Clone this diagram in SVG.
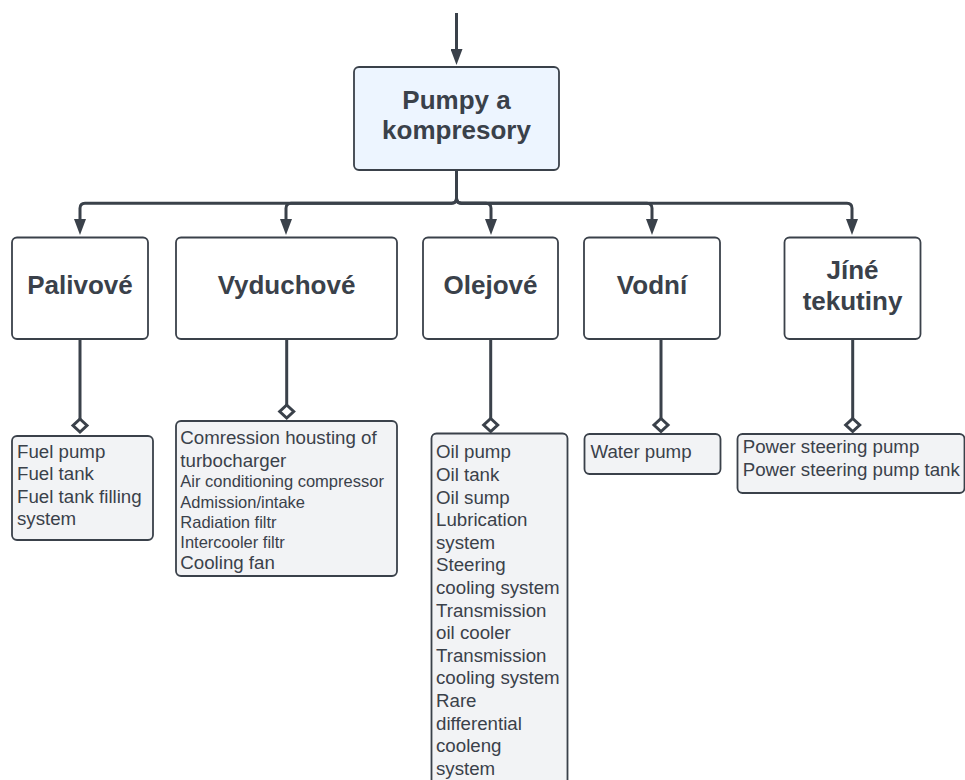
<svg xmlns="http://www.w3.org/2000/svg" xmlns:xlink="http://www.w3.org/1999/xlink" width="965" height="780" viewBox="0 0 965 780">
  <style>
    .box { fill: #ffffff; stroke: #3a414a; stroke-width: 1.8; }
    .root { fill: #edf5ff; }
    .list { fill: #f2f3f5; }
    .title { font-family: "Liberation Sans", Arial, sans-serif; font-weight: bold; font-size: 26px; fill: #3a414a; text-anchor: middle; }
    .item { font-family: "Liberation Sans", Arial, sans-serif; font-size: 18.7px; fill: #3a414a; }
    .small { font-size: 16.5px; }
    .wire { fill: none; stroke: #3a414a; stroke-width: 3; }
    .dia { fill: #ffffff; stroke: #3a414a; stroke-width: 3; }
  </style>
  <defs>
    <marker id="arrow" markerUnits="userSpaceOnUse" markerWidth="16" markerHeight="12" refX="6" refY="6" orient="auto">
      <path d="M0,0 L16,6 L0,12 Z" fill="#3a414a"/>
    </marker>
    <path id="diamond" d="M0,-6.5 L7,0 L0,6.5 L-7,0 Z"/>
  </defs>

  <!-- connectors -->
  <g id="connectors">
    <path class="wire" d="M456.5,13 V55" marker-end="url(#arrow)"/>
    <path class="wire" d="M456.5,170 V198.3 Q456.5,203.3 451.5,203.3 H85 Q80,203.3 80,208.3 V225" marker-end="url(#arrow)"/>
    <path class="wire" d="M456.5,170 V198.3 Q456.5,203.3 451.5,203.3 H291 Q286,203.3 286,208.3 V225" marker-end="url(#arrow)"/>
    <path class="wire" d="M456.5,170 V198.3 Q456.5,203.3 461.5,203.3 H486 Q491,203.3 491,208.3 V225" marker-end="url(#arrow)"/>
    <path class="wire" d="M456.5,170 V198.3 Q456.5,203.3 461.5,203.3 H647 Q652,203.3 652,208.3 V225" marker-end="url(#arrow)"/>
    <path class="wire" d="M456.5,170 V198.3 Q456.5,203.3 461.5,203.3 H847 Q852,203.3 852,208.3 V225" marker-end="url(#arrow)"/>

    <path class="wire" d="M80,339 V419"/>
    <path class="wire" d="M286.7,339 V405"/>
    <path class="wire" d="M490.7,339 V418.5"/>
    <path class="wire" d="M661,339 V418.5"/>
    <path class="wire" d="M852.7,339 V418.5"/>
    <use xlink:href="#diamond" class="dia" x="80" y="425.5"/>
    <use xlink:href="#diamond" class="dia" x="286.7" y="411.5"/>
    <use xlink:href="#diamond" class="dia" x="490.7" y="425"/>
    <use xlink:href="#diamond" class="dia" x="661" y="425"/>
    <use xlink:href="#diamond" class="dia" x="852.7" y="425"/>
  </g>

  <!-- root -->
  <g id="pumpy">
    <rect class="box root" x="354" y="67" width="205" height="103" rx="5"/>
    <text class="title" x="456.5" y="109.3">Pumpy a</text>
    <text class="title" x="456.5" y="139">kompresory</text>
  </g>

  <!-- categories -->
  <g id="palivove">
    <rect class="box" x="12" y="237.5" width="136" height="101.5" rx="5"/>
    <text class="title" x="80" y="294">Palivové</text>
  </g>
  <g id="vyduchove">
    <rect class="box" x="176" y="237.5" width="221" height="101.5" rx="5"/>
    <text class="title" x="286.5" y="294">Vyduchové</text>
  </g>
  <g id="olejove">
    <rect class="box" x="423" y="237.5" width="135" height="101.5" rx="5"/>
    <text class="title" x="490.5" y="294">Olejové</text>
  </g>
  <g id="vodni">
    <rect class="box" x="584" y="237.5" width="136" height="101.5" rx="5"/>
    <text class="title" x="652" y="294">Vodní</text>
  </g>
  <g id="jine">
    <rect class="box" x="784.5" y="237.5" width="136" height="101.5" rx="5"/>
    <text class="title" x="852.5" y="279.3">Jíné</text>
    <text class="title" x="852.5" y="310">tekutiny</text>
  </g>

  <!-- item lists -->
  <g id="palivove-items">
    <rect class="box list" x="12" y="436" width="141" height="104" rx="5"/>
    <text class="item" x="17" y="457.7">Fuel pump</text>
    <text class="item" x="17" y="480.1">Fuel tank</text>
    <text class="item" x="17" y="502.5">Fuel tank filling</text>
    <text class="item" x="17" y="524.9">system</text>
  </g>
  <g id="vyduchove-items">
    <rect class="box list" x="176" y="421" width="221" height="155" rx="5"/>
    <text class="item" x="180.3" y="444.3">Comression housting of</text>
    <text class="item" x="180.3" y="466.7">turbocharger</text>
    <text class="item small" x="180.3" y="487.3">Air conditioning compressor</text>
    <text class="item small" x="180.3" y="507.7">Admission/intake</text>
    <text class="item small" x="180.3" y="527.7">Radiation filtr</text>
    <text class="item small" x="180.3" y="547.7">Intercooler filtr</text>
    <text class="item" x="180.3" y="569">Cooling fan</text>
  </g>
  <g id="olejove-items">
    <rect class="box list" x="431.5" y="433.5" width="136" height="360" rx="5"/>
    <text class="item" x="436" y="458.3">Oil pump</text>
    <text class="item" x="436" y="480.9">Oil tank</text>
    <text class="item" x="436" y="503.5">Oil sump</text>
    <text class="item" x="436" y="526.1">Lubrication</text>
    <text class="item" x="436" y="548.7">system</text>
    <text class="item" x="436" y="571.3">Steering</text>
    <text class="item" x="436" y="593.9">cooling system</text>
    <text class="item" x="436" y="616.5">Transmission</text>
    <text class="item" x="436" y="639.1">oil cooler</text>
    <text class="item" x="436" y="661.7">Transmission</text>
    <text class="item" x="436" y="684.3">cooling system</text>
    <text class="item" x="436" y="706.9">Rare</text>
    <text class="item" x="436" y="729.5">differential</text>
    <text class="item" x="436" y="752.1">cooleng</text>
    <text class="item" x="436" y="774.7">system</text>
  </g>
  <g id="vodni-items">
    <rect class="box list" x="584.5" y="434" width="136" height="40" rx="5"/>
    <text class="item" x="590.5" y="458">Water pump</text>
  </g>
  <g id="jine-items">
    <rect class="box list" x="737.5" y="434" width="227" height="59" rx="5"/>
    <text class="item" x="742.7" y="453">Power steering pump</text>
    <text class="item" x="742.7" y="475.5">Power steering pump tank</text>
  </g>
</svg>
